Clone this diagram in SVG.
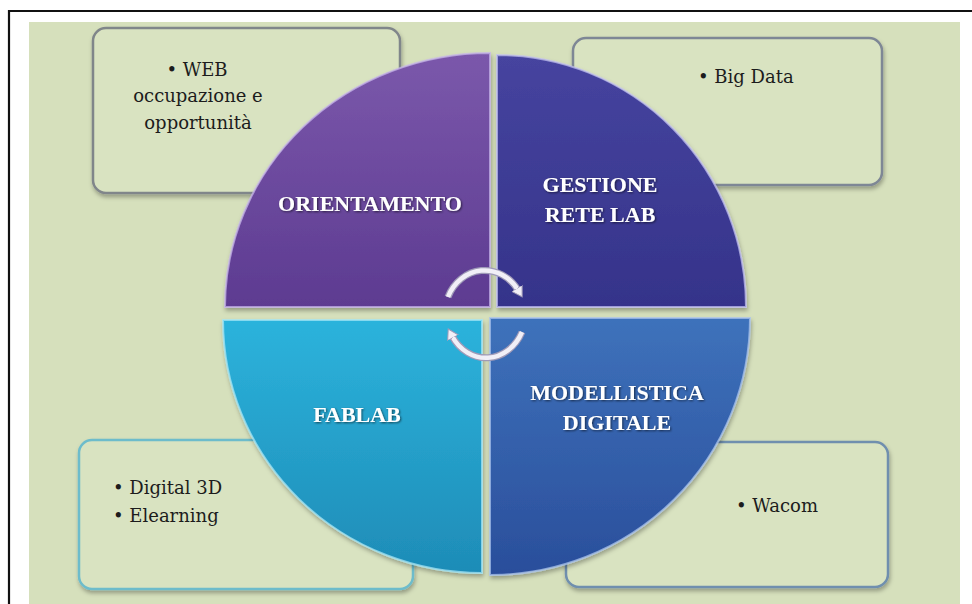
<svg xmlns="http://www.w3.org/2000/svg" width="972" height="604" viewBox="0 0 972 604">
  <defs>
    <style>
      .box{fill:#d9e3c1;stroke-width:2.5}
      .btxt{font-family:"DejaVu Serif","Liberation Serif",serif;font-size:18px;fill:#1c1c1c}
      .qlab{font-family:"Liberation Serif","Times New Roman",serif;font-size:22px;font-weight:bold;fill:#ffffff;text-anchor:middle}
      .quad{stroke-width:2;stroke-opacity:0.75}
      .arcbg{fill:none;stroke:#9f9ab8;stroke-width:7;stroke-linecap:butt}
      .arcfg{fill:none;stroke:#f1eff7;stroke-width:4.5;stroke-linecap:butt}
    </style>
    <linearGradient id="gPurple" x1="0" y1="0" x2="0" y2="1">
      <stop offset="0" stop-color="#7b58ab"/>
      <stop offset="1" stop-color="#5d3b91"/>
    </linearGradient>
    <linearGradient id="gNavy" x1="0" y1="0" x2="0" y2="1">
      <stop offset="0" stop-color="#46449f"/>
      <stop offset="1" stop-color="#35338a"/>
    </linearGradient>
    <linearGradient id="gCyan" x1="0" y1="0" x2="0" y2="1">
      <stop offset="0" stop-color="#2cb3dc"/>
      <stop offset="1" stop-color="#1e8cb7"/>
    </linearGradient>
    <linearGradient id="gBlue" x1="0" y1="0" x2="0" y2="1">
      <stop offset="0" stop-color="#3e72bb"/>
      <stop offset="1" stop-color="#2a4e9b"/>
    </linearGradient>
    <filter id="shadow" x="-10%" y="-10%" width="120%" height="130%">
      <feDropShadow dx="1" dy="3" stdDeviation="2" flood-color="#000" flood-opacity="0.3"/>
    </filter>
    <filter id="tshadow" x="-10%" y="-30%" width="120%" height="160%">
      <feDropShadow dx="1" dy="1" stdDeviation="0.8" flood-color="#000" flood-opacity="0.6"/>
    </filter>
    <marker id="ah" markerUnits="userSpaceOnUse" markerWidth="14" markerHeight="14" refX="2" refY="7" orient="auto">
      <path d="M0,1 L10,7 L0,13 Z" fill="#f1eff7" stroke="#9f9ab8" stroke-width="1"/>
    </marker>
  </defs>

  <rect x="0" y="0" width="972" height="604" fill="#ffffff"/>
  <rect x="29" y="22" width="931" height="582" fill="#d6e0bc"/>
  <path d="M9,604 L9,11 L972,11" fill="none" stroke="#111111" stroke-width="2.2"/>

  <!-- callout boxes (behind the circle) -->
  <g id="box-orientamento">
    <rect class="box" x="93" y="28" width="307" height="165" rx="13" stroke="#80868a" filter="url(#shadow)"/>
    <text class="btxt" text-anchor="middle"><tspan x="197" y="76">• WEB</tspan><tspan x="198" y="102">occupazione e</tspan><tspan x="198" y="129">opportunità</tspan></text>
  </g>
  <g id="box-gestione">
    <rect class="box" x="573" y="38" width="309" height="147" rx="13" stroke="#7e8795" filter="url(#shadow)"/>
    <text class="btxt" x="698" y="83">• Big Data</text>
  </g>
  <g id="box-fablab">
    <rect class="box" x="79" y="440" width="334" height="149" rx="13" stroke="#6dbccb" filter="url(#shadow)"/>
    <text class="btxt"><tspan x="113" y="494">• Digital 3D</tspan><tspan x="113" y="522">• Elearning</tspan></text>
  </g>
  <g id="box-modellistica">
    <rect class="box" x="566" y="442" width="322" height="145" rx="13" stroke="#6f8fae" filter="url(#shadow)"/>
    <text class="btxt" x="736" y="512">• Wacom</text>
  </g>

  <!-- quadrants -->
  <g id="orientamento">
    <path class="quad" d="M490,307 L225,307 A265,254 0 0 1 490,53 Z" fill="url(#gPurple)" stroke="#c7b6ea" filter="url(#shadow)"/>
    <text class="qlab" x="370" y="211" filter="url(#tshadow)">ORIENTAMENTO</text>
  </g>
  <g id="gestione-rete-lab">
    <path class="quad" d="M497,307 L497,55 A249,252 0 0 1 746,307 Z" fill="url(#gNavy)" stroke="#c3c1f0" filter="url(#shadow)"/>
    <text class="qlab" filter="url(#tshadow)"><tspan x="600" y="192">GESTIONE</tspan><tspan x="600" y="222">RETE LAB</tspan></text>
  </g>
  <g id="fablab">
    <path class="quad" d="M482,320 L482,573 A259,253 0 0 1 223,320 Z" fill="url(#gCyan)" stroke="#a6e6f5" filter="url(#shadow)"/>
    <text class="qlab" x="357" y="422" filter="url(#tshadow)">FABLAB</text>
  </g>
  <g id="modellistica-digitale">
    <path class="quad" d="M490,318 L750,318 A260,257 0 0 1 490,575 Z" fill="url(#gBlue)" stroke="#a9c3ec" filter="url(#shadow)"/>
    <text class="qlab" filter="url(#tshadow)"><tspan x="617" y="400">MODELLISTICA</tspan><tspan x="617" y="430">DIGITALE</tspan></text>
  </g>

  <!-- connectors: cycle arrows -->
  <g id="connectors">
    <path class="arcbg" d="M448,297 A40,44 0 0 1 518,290"/>
    <path class="arcfg" d="M448,297 A40,44 0 0 1 518,290" marker-end="url(#ah)"/>
    <path class="arcbg" d="M522,332 A40,46 0 0 1 452,336"/>
    <path class="arcfg" d="M522,332 A40,46 0 0 1 452,336" marker-end="url(#ah)"/>
  </g>
</svg>
